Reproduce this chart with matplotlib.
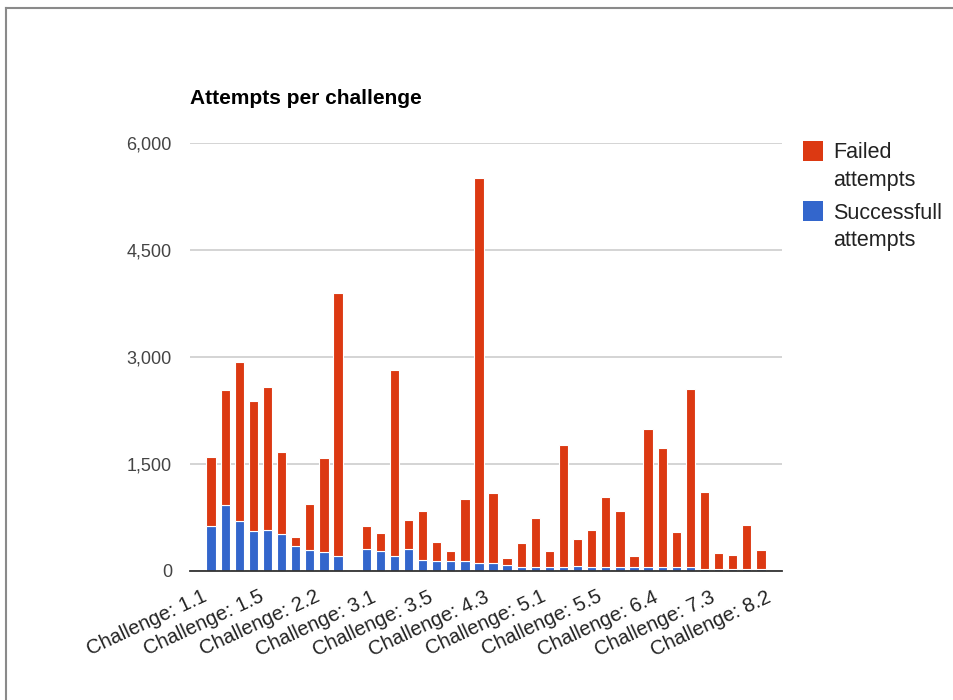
import matplotlib
matplotlib.use("Agg")
import matplotlib.pyplot as plt
from matplotlib.patches import Rectangle
from matplotlib.lines import Line2D
from matplotlib.transforms import ScaledTranslation
import numpy as np

plt.rcParams["font.family"] = ["Liberation Sans", "DejaVu Sans"]

# Challenge identifiers (one bar each)
challenges = [
    "1.1", "1.2", "1.3", "1.4", "1.5", "1.6", "1.7",
    "2.1", "2.2", "2.3", "2.4", "2.5",
    "3.1", "3.2", "3.3", "3.4", "3.5", "3.6",
    "4.1", "4.2", "4.3", "4.4", "4.5", "4.6",
    "5.1", "5.2", "5.3", "5.4", "5.5",
    "6.1", "6.2", "6.3", "6.4", "6.5",
    "7.1", "7.2", "7.3", "7.4", "7.5",
    "8.1", "8.2",
]

successful = [
    630, 920, 700, 560, 575, 510, 340,
    290, 265, 210, 0, 305,
    280, 210, 305, 150, 140, 140,
    140, 105, 105, 75, 55, 55,
    55, 55, 70, 55, 55,
    55, 55, 45, 45, 45,
    45, 30, 30, 30, 30,
    30, 0,
]

failed = [
    970, 1610, 2220, 1820, 2000, 1160, 130,
    645, 1310, 3690, 0, 315,
    245, 2610, 410, 685, 260, 135,
    865, 5400, 980, 100, 340, 680,
    220, 1710, 375, 510, 975,
    785, 145, 1940, 1670, 495,
    2500, 1070, 215, 195, 610,
    265, 0,
]

series_names = ["Failed\nattempts", "Successfull\nattempts"]
red = "#DC3912"
blue = "#3366CC"

W, H = 954, 700
fig = plt.figure(figsize=(W / 100, H / 100), dpi=100)
fig.patch.set_facecolor("white")

# plot area in pixel terms
left_px, right_px, top_px, bottom_px = 190, 782, 142.7, 570.7
ax = fig.add_axes([left_px / W, 1 - bottom_px / H,
                   (right_px - left_px) / W, (bottom_px - top_px) / H])

x = np.arange(len(challenges))
ax.bar(x, successful, width=0.66, color=blue, edgecolor="white",
       linewidth=0.8, zorder=3)
ax.bar(x, failed, width=0.66, bottom=successful, color=red,
       edgecolor="white", linewidth=0.8, zorder=3)

ax.set_xlim(-1.5, len(challenges) - 0.5)
ax.set_ylim(0, 6000)
yt = [0, 1500, 3000, 4500, 6000]
ax.set_yticks(yt)
ax.set_yticklabels([f"{v:,}" for v in yt], fontsize=13, color="#444444")
ax.yaxis.grid(True, color="#d4d4d4", linewidth=1.4, zorder=0)
ax.set_axisbelow(True)

step = 4
ax.set_xticks(x[::step])
ax.set_xticklabels([f"Challenge: {c}" for c in challenges[::step]],
                   rotation=25, ha="right", va="top",
                   rotation_mode="anchor", fontsize=14.5, color="#222222")
ax.tick_params(axis="both", length=0)
ax.tick_params(axis="y", pad=13)
ax.tick_params(axis="x", pad=12)
# nudge slanted category labels slightly left of their ticks
shift = ScaledTranslation(-9 / 100, 0, fig.dpi_scale_trans)
for lbl in ax.get_xticklabels():
    lbl.set_transform(lbl.get_transform() + shift)

for s in ["top", "right", "left"]:
    ax.spines[s].set_visible(False)
ax.spines["bottom"].set_color("#333333")
ax.spines["bottom"].set_linewidth(1.3)
ax.spines["bottom"].set_zorder(4)

fig.text(190 / W, 1 - 98 / H, "Attempts per challenge", fontsize=15,
         fontweight="bold", color="black", ha="left", va="center")

# legend on the right
legend_items = [(red, series_names[0], 140.5), (blue, series_names[1], 201)]
for color, name, ytop in legend_items:
    fig.patches.append(Rectangle((803 / W, 1 - (ytop + 20) / H), 20 / W, 20 / H,
                                 transform=fig.transFigure, facecolor=color,
                                 edgecolor="none"))
    fig.text(833 / W, 1 - (ytop + 1.5) / H, name, fontsize=15.5, color="#222222",
             ha="left", va="top", linespacing=1.42)

# container frame
fig.add_artist(Line2D([6 / W, 1], [1 - 8 / H, 1 - 8 / H],
                      transform=fig.transFigure, color="#8a8a8a", linewidth=1.5))
fig.add_artist(Line2D([6 / W, 6 / W], [0, 1 - 8 / H],
                      transform=fig.transFigure, color="#8a8a8a", linewidth=1.5))

fig.savefig("out.png", dpi=100, facecolor="white")
